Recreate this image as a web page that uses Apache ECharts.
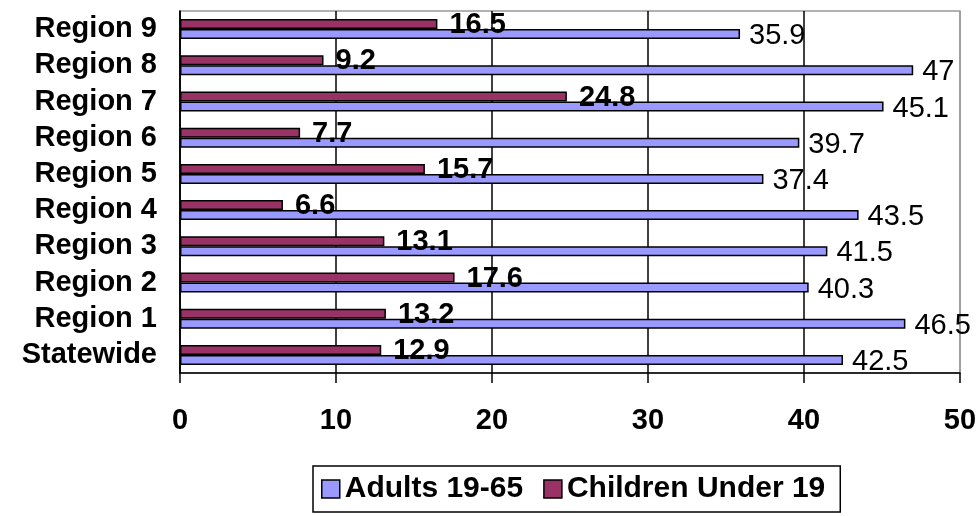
<!DOCTYPE html>
<html>
<head>
<meta charset="utf-8">
<script src="https://cdn.jsdelivr.net/npm/echarts@6/dist/echarts.min.js"></script>
<style>
  html, body { margin: 0; padding: 0; background: #fff; }
  #chart { width: 980px; height: 516px; }
</style>
</head>
<body>
<div id="chart"></div>
<script>
// categories bottom to top
const regions = ["Statewide", "Region 1", "Region 2", "Region 3", "Region 4",
  "Region 5", "Region 6", "Region 7", "Region 8", "Region 9"];
const adults = [42.5, 46.5, 40.3, 41.5, 43.5, 37.4, 39.7, 45.1, 47, 35.9];
const children = [12.9, 13.2, 17.6, 13.1, 6.6, 15.7, 7.7, 24.8, 9.2, 16.5];
const xTicks = [0, 10, 20, 30, 40, 50];

const font = "Liberation Sans, Arial, sans-serif";
let myChart = echarts.init(document.getElementById("chart"));

myChart.setOption({
  animation: false,
  color: ["#993366", "#9999FF"],
  grid: {
    left: 180,
    right: 20,
    top: 11,
    bottom: 143,
    show: true,
    borderColor: "#999",
    borderWidth: 1.5,
  },
  legend: {
    data: ["Adults 19-65", "Children Under 19"],
    left: 313,
    top: 466,
    padding: [8, 15, 8, 8],
    borderColor: "#000",
    borderWidth: 1.5,
    icon: "rect",
    itemWidth: 18,
    itemHeight: 18,
    itemGap: 20,
    itemStyle: { borderColor: "#000", borderWidth: 1.5 },
    textStyle: { fontFamily: font, fontSize: 30, fontWeight: "bold", color: "#000" },
  },
  xAxis: {
    type: "value",
    min: xTicks[0],
    max: xTicks[xTicks.length - 1],
    interval: 10,
    axisLine: { show: true, lineStyle: { color: "#000", width: 1.5 } },
    axisTick: { show: true, length: 10, lineStyle: { color: "#000", width: 1.5 } },
    axisLabel: { fontFamily: font, fontSize: 29, fontWeight: "bold", color: "#000", margin: 33 },
    // 最后一条（50）是灰色边框
    splitLine: {
      lineStyle: { color: ["#000", "#000", "#000", "#000", "#000", "#999"], width: 1.5 },
    },
  },
  yAxis: {
    type: "category",
    data: regions,
    axisLine: { lineStyle: { color: "#000", width: 1.5 } },
    axisTick: { length: 10, lineStyle: { color: "#000", width: 1.5 } },
    axisLabel: {
      interval: 0,
      fontFamily: font,
      fontSize: 29,
      fontWeight: "bold",
      color: "#000",
      margin: 23,
    },
  },
  series: [
    {
      name: "Children Under 19",
      type: "bar",
      data: children,
      barWidth: 10,
      barGap: "0%",
      itemStyle: { borderColor: "#000", borderWidth: 1.5 },
      label: {
        show: true,
        position: "right",
        distance: 12,
        offset: [0, 1],
        fontFamily: font,
        fontSize: 29,
        fontWeight: "bold",
        color: "#000",
      },
    },
    {
      name: "Adults 19-65",
      type: "bar",
      data: adults,
      barWidth: 10,
      barGap: "0%",
      itemStyle: { borderColor: "#000", borderWidth: 1.5 },
      label: {
        show: true,
        position: "right",
        distance: 9,
        offset: [0, 2],
        fontFamily: font,
        fontSize: 29,
        color: "#000",
      },
    },
  ],
});

window.addEventListener("resize", () => {
  myChart.resize();
});
</script>
</body>
</html>
